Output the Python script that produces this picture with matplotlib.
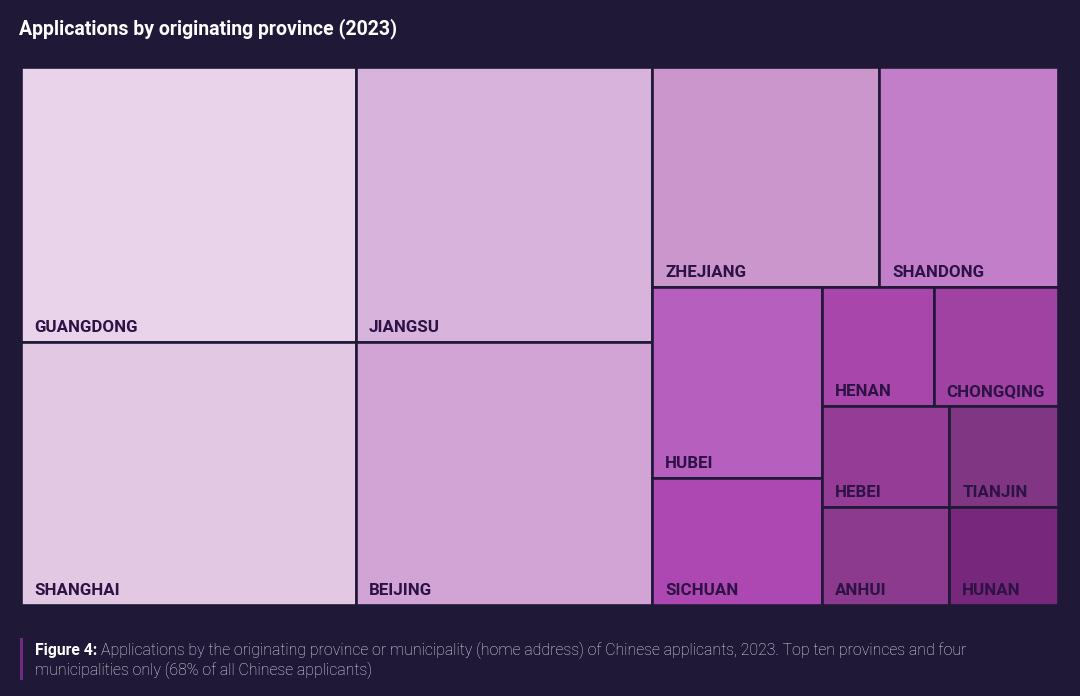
import matplotlib
matplotlib.use("Agg")
import matplotlib.pyplot as plt
from matplotlib.patches import Rectangle

# Estimated share of each tile (relative units, read from the tile areas)
provinces = ["GUANGDONG", "JIANGSU", "SHANGHAI", "BEIJING", "ZHEJIANG", "SHANDONG", "HUBEI",
             "SICHUAN", "HENAN", "CHONGQING", "HEBEI", "TIANJIN", "ANHUI", "HUNAN"]
values = [91.1, 80.5, 87.4, 77.3, 49.5, 38.9, 32.0, 21.4, 13.15, 14.6, 12.76, 10.86, 12.45, 10.58]
colors = ["#E8D3EA", "#D8B4DC", "#E3C8E3", "#D2A3D5", "#CB96CC", "#C27EC8", "#B65FBE",
          "#AD48B2", "#A946AC", "#A042A2", "#943C96", "#813684", "#8B3A8D", "#77277C"]

title = "Applications by originating province (2023)"
caption_bold = "Figure 4:"
caption_line1 = "Applications by the originating province or municipality (home address) of Chinese applicants, 2023. Top ten provinces and four"
caption_line2 = "municipalities only (68% of all Chinese applicants)"

BG = "#1F1937"
INK = "#2D1245"

# how the tiles nest: "h" splits side by side, "v" stacks (first on top)
layout = ("h", [
    ("v", [("h", ["GUANGDONG", "JIANGSU"]), ("h", ["SHANGHAI", "BEIJING"])]),
    ("v", [
        ("h", ["ZHEJIANG", "SHANDONG"]),
        ("h", [
            ("v", ["HUBEI", "SICHUAN"]),
            ("v", [("h", ["HENAN", "CHONGQING"]), ("h", ["HEBEI", "TIANJIN"]), ("h", ["ANHUI", "HUNAN"])]),
        ]),
    ]),
])

value_of = dict(zip(provinces, values))
color_of = dict(zip(provinces, colors))


def total(node):
    if isinstance(node, str):
        return value_of[node]
    return sum(total(child) for child in node[1])


def draw(ax, node, x, y, w, h):
    if isinstance(node, str):
        ax.add_patch(Rectangle((x, y), w, h, facecolor=color_of[node], edgecolor=BG, linewidth=1.9))
        ax.annotate(node, (x, y), xytext=(9.2, 7.3), textcoords="offset points", color=INK,
                    fontsize=12.2, fontweight="bold", va="baseline", ha="left")
        return
    direction, children = node
    whole = total(node)
    if direction == "h":
        for child in children:
            cw = w * total(child) / whole
            draw(ax, child, x, y, cw, h)
            x += cw
    else:
        top = y + h
        for child in children:
            ch = h * total(child) / whole
            top -= ch
            draw(ax, child, x, top, w, ch)


plt.rcParams["font.family"] = ["Roboto", "DejaVu Sans"]

fig = plt.figure(figsize=(10.8, 6.96), dpi=100, facecolor=BG)
W, H = 1080, 696
ax = fig.add_axes([21.2 / W, 1 - 605.2 / H, 1036.8 / W, 537.8 / H])
ax.set_xlim(0, 1)
ax.set_ylim(0, 1)
ax.axis("off")
draw(ax, layout, 0, 0, 1, 1)

fig.text(19 / W, 1 - 34.5 / H, title, color="white", fontsize=14.07, fontweight="bold", va="baseline")

# caption with accent bar, the bold lead-in is measured so the rest can follow it
fig.add_artist(Rectangle((20 / W, 1 - 680 / H), 3 / W, 42 / H, transform=fig.transFigure,
                         facecolor="#6F2C80", edgecolor="none"))
lead = fig.text(35 / W, 1 - 655 / H, caption_bold, color="white", fontsize=11.3, fontweight="bold", va="baseline")
fig.canvas.draw()
lead_end = lead.get_window_extent().x1
fig.text((lead_end + 4) / W, 1 - 655 / H, caption_line1, color="#E4E0EC", fontsize=11.48, fontweight="light", va="baseline")
fig.text(35 / W, 1 - 675 / H, caption_line2, color="#E4E0EC", fontsize=11.48, fontweight="light", va="baseline")

fig.savefig("out.png", dpi=100, facecolor=BG)
